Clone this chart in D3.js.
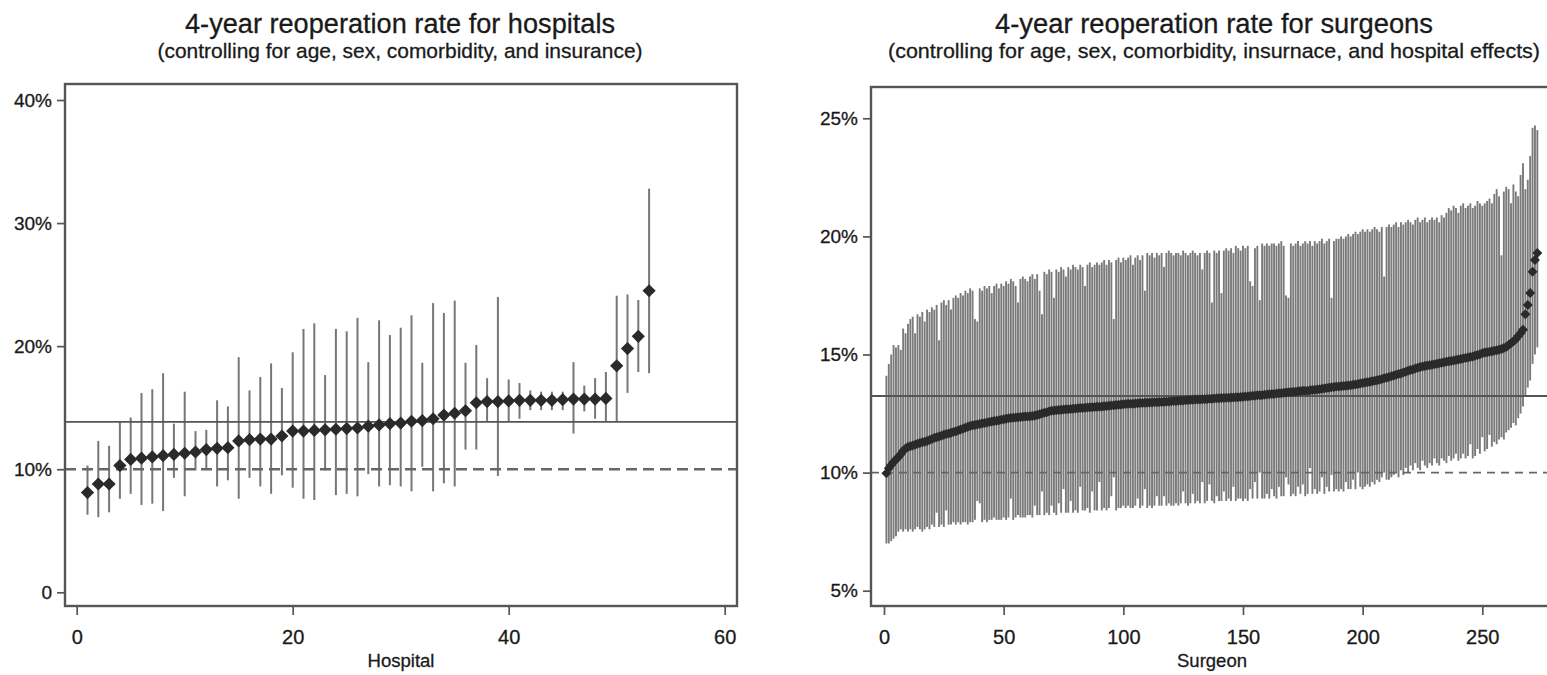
<!DOCTYPE html>
<html>
<head>
<meta charset="utf-8">
<script src="https://cdn.jsdelivr.net/npm/d3@7"></script>
<style>
body { margin: 0; background: #fff; }
svg text { font-family: "Liberation Sans", Arial, sans-serif; fill: #1a1a1a; stroke: #1a1a1a; stroke-width: 0.3px; }
</style>
</head>
<body>
<svg id="chart" width="1547" height="675"></svg>
<script>
// ---- hospitals (ranked 1..53), percent ----
const hospEst = [8.1, 8.8, 8.8, 10.3, 10.8, 10.9, 11.0, 11.1, 11.2, 11.3,
    11.4, 11.6, 11.7, 11.75, 12.3, 12.4, 12.45, 12.45, 12.7, 13.1,
    13.1, 13.15, 13.2, 13.25, 13.3, 13.35, 13.5, 13.6, 13.7, 13.75,
    13.9, 13.95, 14.1, 14.4, 14.55, 14.75, 15.4, 15.5, 15.5, 15.55,
    15.6, 15.6, 15.6, 15.6, 15.65, 15.7, 15.7, 15.7, 15.75, 18.4,
    19.8, 20.8, 24.5]
const hospLo = [6.3, 6.1, 6.5, 7.6, 8.0, 7.1, 7.2, 6.6, 9.3, 7.8,
    9.9, 10.0, 8.6, 9.1, 7.6, 9.3, 8.6, 8.0, 9.5, 8.5,
    7.6, 7.5, 9.9, 7.9, 8.0, 7.8, 9.6, 8.6, 8.7, 8.6,
    8.2, 10.2, 8.2, 8.85, 8.6, 11.6, 11.6, 13.9, 9.45, 13.9,
    14.1, 14.8, 14.8, 14.8, 14.8, 12.9, 14.7, 14.1, 13.9, 13.9,
    16.2, 17.9, 17.8]
const hospHi = [10.3, 12.3, 11.9, 13.9, 14.2, 16.2, 16.5, 17.8, 13.7, 16.3,
    13.1, 13.2, 15.6, 15.1, 19.1, 16.4, 17.5, 18.6, 16.6, 19.5,
    21.4, 21.85, 17.65, 21.4, 21.2, 22.3, 18.7, 22.1, 20.9, 21.5,
    22.5, 18.65, 23.5, 22.7, 23.7, 18.65, 20.1, 17.4, 24.0, 17.3,
    17.0, 16.4, 16.3, 16.3, 16.3, 18.7, 16.8, 17.4, 17.9, 24.1,
    24.2, 23.75, 32.8]
const hospMean = 13.85
const hospRef = 10

// ---- surgeons (ranked 1..273), percent ----
const surgEst = [
    9.97, 10.18, 10.32, 10.45, 10.55, 10.66, 10.78, 10.92, 11.02, 11.08,
    11.12, 11.15, 11.18, 11.22, 11.25, 11.28, 11.31, 11.34, 11.38, 11.42,
    11.46, 11.5, 11.53, 11.56, 11.6, 11.63, 11.66, 11.69, 11.72, 11.75,
    11.78, 11.82, 11.86, 11.9, 11.94, 11.97, 12.0, 12.02, 12.04, 12.06,
    12.08, 12.1, 12.12, 12.14, 12.16, 12.18, 12.2, 12.22, 12.24, 12.26,
    12.28, 12.3, 12.31, 12.32, 12.33, 12.34, 12.35, 12.36, 12.37, 12.38,
    12.39, 12.4, 12.42, 12.44, 12.47, 12.5, 12.53, 12.56, 12.59, 12.62,
    12.63, 12.64, 12.65, 12.66, 12.67, 12.68, 12.68, 12.69, 12.7, 12.71,
    12.72, 12.73, 12.74, 12.75, 12.76, 12.77, 12.77, 12.78, 12.79, 12.79,
    12.8, 12.81, 12.82, 12.83, 12.84, 12.85, 12.86, 12.87, 12.88, 12.89,
    12.9, 12.91, 12.92, 12.92, 12.93, 12.94, 12.95, 12.95, 12.96, 12.96,
    12.97, 12.97, 12.98, 12.98, 12.99, 12.99, 13.0, 13.0, 13.01, 13.02,
    13.03, 13.03, 13.04, 13.05, 13.05, 13.06, 13.07, 13.07, 13.08, 13.09,
    13.09, 13.1, 13.11, 13.11, 13.12, 13.13, 13.13, 13.14, 13.15, 13.15,
    13.16, 13.16, 13.17, 13.17, 13.18, 13.18, 13.19, 13.19, 13.2, 13.21,
    13.22, 13.22, 13.24, 13.25, 13.25, 13.27, 13.28, 13.28, 13.3, 13.31,
    13.32, 13.33, 13.33, 13.35, 13.36, 13.36, 13.38, 13.39, 13.4, 13.41,
    13.42, 13.42, 13.44, 13.45, 13.46, 13.47, 13.47, 13.49, 13.5, 13.51,
    13.52, 13.53, 13.55, 13.56, 13.58, 13.59, 13.61, 13.62, 13.64, 13.65,
    13.66, 13.67, 13.68, 13.69, 13.7, 13.72, 13.73, 13.75, 13.77, 13.79,
    13.81, 13.83, 13.85, 13.87, 13.89, 13.91, 13.93, 13.96, 13.99, 14.02,
    14.05, 14.08, 14.11, 14.14, 14.17, 14.2, 14.24, 14.27, 14.31, 14.34,
    14.37, 14.41, 14.44, 14.47, 14.49, 14.51, 14.53, 14.55, 14.57, 14.59,
    14.61, 14.63, 14.65, 14.67, 14.69, 14.71, 14.73, 14.75, 14.77, 14.79,
    14.81, 14.83, 14.85, 14.87, 14.89, 14.92, 14.95, 14.98, 15.01, 15.05,
    15.08, 15.1, 15.12, 15.14, 15.16, 15.18, 15.2, 15.23, 15.27, 15.32,
    15.4, 15.48, 15.56, 15.65, 15.78, 15.9, 16.05, 16.7, 17.1, 17.6,
    18.5, 19.0, 19.3]
const surgHi = [
    14.1, 14.6, 15.0, 15.4, 15.3, 15.4, 15.2, 16.1, 15.9, 16.3,
    16.5, 16.6, 15.9, 16.7, 16.6, 16.8, 16.4, 16.9, 16.8, 17.0,
    16.9, 17.1, 15.6, 17.2, 17.3, 17.1, 17.3, 16.9, 17.4, 17.5,
    17.4, 17.6, 17.5, 17.7, 17.6, 17.8, 17.7, 16.5, 16.4, 17.8,
    17.7, 17.9, 17.8, 17.9, 17.6, 17.9, 18.0, 17.8, 18.0, 17.9,
    18.1, 18.0, 18.2, 18.1, 17.9, 17.2, 18.2, 18.3, 18.2, 18.1,
    18.3, 18.4, 18.2, 18.4, 17.7, 16.7, 18.5, 18.4, 18.6, 18.5,
    17.4, 18.6, 18.5, 18.7, 18.6, 18.3, 18.7, 18.6, 18.8, 18.7,
    18.6, 18.8, 18.7, 17.9, 18.8, 18.9, 18.7, 18.8, 18.9, 18.8,
    18.9, 19.0, 18.8, 19.0, 18.9, 16.5, 19.0, 19.1, 18.9, 19.1,
    19.0, 19.1, 19.2, 18.8, 19.1, 19.2, 19.0, 19.2, 17.7, 19.3,
    19.2, 19.3, 19.1, 19.3, 19.2, 19.3, 18.7, 19.3, 19.4, 19.3,
    19.2, 19.3, 19.3, 19.2, 19.4, 19.3, 19.2, 19.3, 19.4, 19.3,
    19.2, 19.3, 18.6, 19.3, 19.4, 19.3, 17.2, 19.4, 19.3, 19.4,
    17.6, 19.4, 19.5, 19.4, 19.5, 19.3, 19.6, 19.5, 19.4, 19.6,
    19.5, 19.6, 18.1, 17.9, 19.5, 19.6, 17.3, 19.7, 19.6, 19.7,
    19.6, 19.7, 19.7, 19.6, 19.7, 19.8, 19.6, 17.5, 17.4, 19.7,
    19.6, 19.7, 19.8, 19.6, 19.7, 19.8, 19.7, 19.8, 19.6, 19.8,
    19.7, 19.8, 19.9, 19.7, 19.8, 19.9, 17.4, 19.8, 19.9, 19.9,
    20.0, 19.9, 20.0, 20.1, 20.0, 20.1, 20.2, 20.1, 20.2, 20.3,
    20.2, 20.3, 20.2, 20.3, 20.4, 20.3, 20.2, 20.4, 18.3, 20.4,
    20.5, 20.4, 20.5, 20.6, 20.4, 20.6, 20.5, 20.6, 20.7, 20.6,
    20.5, 20.7, 20.8, 20.6, 20.7, 20.8, 20.6, 20.7, 20.8, 20.7,
    20.8, 20.6, 20.9, 20.8, 21.0, 21.2, 21.1, 21.3, 21.2, 21.0,
    21.3, 21.4, 21.2, 21.3, 21.4, 21.2, 21.3, 21.5, 21.4, 21.3,
    21.4, 21.5, 21.6, 21.4, 21.8, 22.0, 21.7, 19.2, 21.9, 22.1,
    22.0, 21.4, 22.2, 21.9, 21.7, 22.6, 23.1, 22.0, 22.4, 23.4,
    24.6, 24.7, 24.5]
const surgLo = [
    7.0, 7.0, 7.1, 7.2, 7.3, 7.5, 7.6, 7.5, 7.6, 7.5,
    7.6, 7.5, 7.6, 7.7, 7.6, 7.5, 7.6, 7.7, 7.6, 7.8,
    7.7, 8.3, 7.7, 7.8, 7.7, 8.4, 7.8, 7.8, 7.9, 7.8,
    7.9, 7.8, 7.9, 7.9, 7.8, 7.9, 7.9, 8.0, 8.8, 8.7,
    7.9, 8.0, 7.9, 8.0, 8.0, 8.1, 8.0, 8.0, 8.0, 8.1,
    8.0, 8.1, 8.9, 8.0, 8.1, 8.2, 8.1, 8.1, 8.1, 8.2,
    8.2, 8.1, 8.6, 8.2, 8.2, 9.2, 8.2, 8.3, 8.2, 8.6,
    8.3, 8.2, 8.7, 8.3, 9.3, 8.3, 8.3, 8.8, 8.3, 8.4,
    8.3, 9.4, 8.4, 8.4, 8.5, 8.3, 9.2, 8.4, 8.4, 9.6,
    8.4, 8.5, 8.4, 8.5, 9.0, 9.8, 8.4, 8.5, 8.5, 8.6,
    8.5, 8.6, 8.5, 8.5, 8.6, 8.9, 8.5, 8.6, 9.3, 8.5,
    8.6, 8.5, 8.6, 9.0, 8.6, 8.6, 9.0, 8.6, 8.7, 8.6,
    8.6, 8.7, 8.6, 8.7, 9.2, 8.7, 8.6, 8.7, 9.1, 8.7,
    8.8, 8.7, 9.6, 8.7, 8.8, 9.5, 8.8, 8.7, 9.0, 8.8,
    8.8, 9.2, 8.8, 8.9, 8.8, 9.4, 8.8, 8.9, 8.9, 8.8,
    8.9, 8.8, 9.3, 8.9, 9.6, 8.9, 10.0, 8.9, 8.9, 9.1,
    8.9, 9.3, 9.0, 8.9, 9.4, 9.0, 9.0, 9.8, 9.5, 9.0,
    9.1, 9.0, 9.4, 9.1, 9.5, 9.0, 9.1, 10.2, 9.1, 9.3,
    9.1, 9.2, 9.8, 9.1, 9.4, 9.2, 9.9, 9.2, 9.3, 9.2,
    9.3, 9.2, 9.6, 9.3, 9.3, 9.7, 9.3, 10.0, 9.4, 9.3,
    9.4, 9.5, 9.4, 9.6, 9.5, 9.7, 9.6, 9.8, 10.0, 9.7,
    9.7, 9.8, 9.9, 10.0, 9.8, 10.1, 9.9, 10.2, 10.0, 10.3,
    10.1, 10.4, 10.2, 10.1, 10.5, 10.3, 10.2, 10.4, 10.3, 10.6,
    10.4, 10.3, 10.6, 10.5, 10.4, 10.7, 10.5, 10.6, 10.8, 10.5,
    10.6, 10.8, 10.6, 10.7, 11.2, 10.6, 10.7, 11.0, 10.8, 11.5,
    10.9, 11.0, 11.6, 11.1, 11.3, 11.2, 11.4, 11.5, 11.4, 11.7,
    11.8, 11.9, 12.1, 12.0, 12.3, 12.5, 12.8, 13.2, 13.6, 13.9,
    14.6, 15.0, 15.3]
const surgMean = 13.24
const surgRef = 10

const hospXTicks = [0, 20, 40, 60]
const hospYTicks = [0, 10, 20, 30, 40]
const hospYLabels = ['0', '10%', '20%', '30%', '40%']
const surgXTicks = [0, 50, 100, 150, 200, 250]
const surgYTicks = [5, 10, 15, 20, 25]
const surgYLabels = ['5%', '10%', '15%', '20%', '25%']

const svg = d3.select('#chart')

function diamond(r) {
    return `M0,${-r}L${r},0L0,${r}L${-r},0Z`
}

function drawPanel(cfg) {
    const g = svg.append('g')
    const f = cfg.frame
    const x = d3.scaleLinear().domain(cfg.xDomain).range(cfg.xRange)
    const y = d3.scaleLinear().domain(cfg.yDomain).range(cfg.yRange)

    g.append('text')
        .attr('x', cfg.titleX).attr('y', 33)
        .attr('text-anchor', 'middle')
        .style('font-size', '27px')
        .attr('textLength', cfg.titleW).attr('lengthAdjust', 'spacingAndGlyphs')
        .text(cfg.title)
    g.append('text')
        .attr('x', cfg.titleX).attr('y', 58)
        .attr('text-anchor', 'middle')
        .style('font-size', '21px')
        .attr('textLength', cfg.subW).attr('lengthAdjust', 'spacingAndGlyphs')
        .text(cfg.subtitle)

    // confidence intervals
    g.append('g').selectAll('line')
        .data(cfg.est)
        .join('line')
            .attr('x1', (_, i) => x(i + 1))
            .attr('x2', (_, i) => x(i + 1))
            .attr('y1', (_, i) => y(cfg.lo[i]))
            .attr('y2', (_, i) => y(cfg.hi[i]))
            .attr('stroke', cfg.ciColor)
            .attr('stroke-width', cfg.ciWidth)

    // overall mean and 10% reference
    g.append('line')
        .attr('x1', f.left).attr('x2', f.right)
        .attr('y1', y(cfg.mean)).attr('y2', y(cfg.mean))
        .attr('stroke', '#555').attr('stroke-width', 1.9)
    g.append('line')
        .attr('x1', f.left).attr('x2', f.right)
        .attr('y1', y(cfg.ref)).attr('y2', y(cfg.ref))
        .attr('stroke', '#666').attr('stroke-width', cfg.dashWidth)
        .attr('stroke-dasharray', cfg.dash)

    g.append('g').selectAll('path')
        .data(cfg.est)
        .join('path')
            .attr('transform', (d, i) => `translate(${x(i + 1)},${y(d)})`)
            .attr('d', diamond(cfg.markR))
            .attr('fill', '#2a2a2a')

    g.append('rect')
        .attr('x', f.left).attr('y', f.top)
        .attr('width', f.right - f.left).attr('height', f.bottom - f.top)
        .attr('fill', 'none').attr('stroke', '#555').attr('stroke-width', 2.4)

    const yAxis = g.append('g')
        .attr('transform', `translate(${f.left - 1},0)`)
        .call(d3.axisLeft(y).tickValues(cfg.yTicks).tickSize(7).tickPadding(5)
            .tickFormat((_, i) => cfg.yLabels[i]))
    const xAxis = g.append('g')
        .attr('transform', `translate(0,${f.bottom + 1})`)
        .call(d3.axisBottom(x).tickValues(cfg.xTicks).tickSize(8).tickPadding(15))

    for (const ax of [yAxis, xAxis]) {
        ax.select('.domain').remove()
        ax.selectAll('line').attr('stroke', '#555').attr('stroke-width', 1.7)
        ax.selectAll('text').attr('fill', '#1a1a1a')
            .style('font-family', '"Liberation Sans", Arial, sans-serif')
    }
    yAxis.selectAll('text').style('font-size', '19px')
    xAxis.selectAll('text').style('font-size', '20px')

    g.append('text')
        .attr('x', (f.left + f.right) / 2).attr('y', 667)
        .attr('text-anchor', 'middle')
        .style('font-size', '18.5px')
        .text(cfg.xTitle)
}

drawPanel({
    title: '4-year reoperation rate for hospitals',
    subtitle: '(controlling for age, sex, comorbidity, and insurance)',
    titleX: 400, titleW: 430, subW: 485,
    frame: { left: 65, right: 737, top: 84, bottom: 606 },
    xDomain: [0, 60], xRange: [76.7, 724.7],
    yDomain: [0, 40], yRange: [592.3, 100],
    est: hospEst, lo: hospLo, hi: hospHi,
    mean: hospMean, ref: hospRef,
    ciColor: '#767676', ciWidth: 2.0, markR: 6.6, dash: '11,6', dashWidth: 2.3,
    xTicks: hospXTicks, yTicks: hospYTicks, yLabels: hospYLabels,
    xTitle: 'Hospital'
})

drawPanel({
    title: '4-year reoperation rate for surgeons',
    subtitle: '(controlling for age, sex, comorbidity, insurnace, and hospital effects)',
    titleX: 1214, titleW: 438, subW: 652,
    frame: { left: 871, right: 1553, top: 87, bottom: 606 },
    xDomain: [0, 250], xRange: [884, 1482.3],
    yDomain: [5, 25], yRange: [590.7, 118.3],
    est: surgEst, lo: surgLo, hi: surgHi,
    mean: surgMean, ref: surgRef,
    ciColor: '#7a7a7a', ciWidth: 1.9, markR: 5.0, dash: '8,6', dashWidth: 1.7,
    xTicks: surgXTicks, yTicks: surgYTicks, yLabels: surgYLabels,
    xTitle: 'Surgeon'
})
</script>
</body>
</html>
